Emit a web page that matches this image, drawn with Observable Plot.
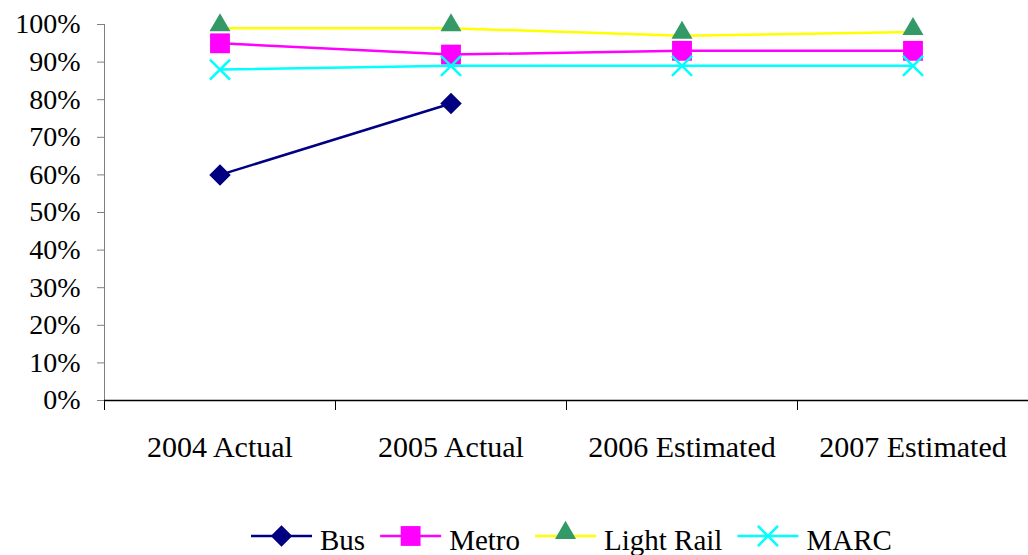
<!DOCTYPE html>
<html>
<head>
<meta charset="utf-8">
<script src="https://cdn.jsdelivr.net/npm/d3@7"></script>
<script src="https://cdn.jsdelivr.net/npm/@observablehq/plot@0.6"></script>
<style>
  html, body { margin: 0; padding: 0; background: #fff; }
  body { width: 1028px; height: 555px; overflow: hidden; font-family: "Liberation Serif", "Times New Roman", serif; }
  #chart svg, #legend svg { display: block; }
</style>
</head>
<body>
<div id="chart"></div>
<div id="legend"></div>
<script>
// Categories (fiscal years) and on-time performance per mode, in percent
const years = ["2004 Actual", "2005 Actual", "2006 Estimated", "2007 Estimated"];
const seriesNames = ["Bus", "Metro", "Light Rail", "MARC"];
const bus = [60, 79, null, null];
const metro = [95, 92, 93, 93];
const lightRail = [99, 99, 97, 98];
const marc = [88, 89, 89, 89];
const yTicks = [0, 10, 20, 30, 40, 50, 60, 70, 80, 90, 100];

// Per-series drawing style
const styles = {
  "Bus":        {line: "#000080", fill: "#000080", stroke: "none",    symbol: "diamond2", d3symbol: d3.symbolDiamond2, r: 9.7, dy: 0},
  "Metro":      {line: "#FF00FF", fill: "#FF00FF", stroke: "none",    symbol: "square",   d3symbol: d3.symbolSquare,   r: 11.2, dy: 0},
  "Light Rail": {line: "#FFFF00", fill: "#339966", stroke: "none",    symbol: "triangle", d3symbol: d3.symbolTriangle, r: 7.8, dy: -3},
  "MARC":       {line: "#00FFFF", fill: "none",    stroke: "#00FFFF", symbol: "times",    d3symbol: d3.symbolTimes,    r: 9.2, dy: 0}
};
const valuesBySeries = {"Bus": bus, "Metro": metro, "Light Rail": lightRail, "MARC": marc};

const rows = seriesNames.flatMap(name =>
  years.map((year, i) => ({series: name, year, value: valuesBySeries[name][i]}))
       .filter(d => d.value != null)
);

const W = 1028, H = 505, ML = 104, MR = 0, MT = 24, MB = 105;
const step = (W - ML - MR) / years.length;

const seriesMarks = seriesNames.flatMap(name => {
  const s = styles[name];
  const data = rows.filter(d => d.series === name);
  return [
    Plot.line(data, {x: "year", y: "value", stroke: s.line, strokeWidth: 2.5}),
    Plot.dot(data, {x: "year", y: "value", symbol: s.symbol, r: s.r, fill: s.fill,
                    stroke: s.stroke, strokeWidth: 2.5, dy: s.dy})
  ];
});

const chart = Plot.plot({
  width: W,
  height: H,
  marginLeft: ML,
  marginRight: MR,
  marginTop: MT,
  marginBottom: MB,
  style: {fontFamily: "'Liberation Serif', 'Times New Roman', serif", background: "#fff", color: "#000"},
  x: {type: "band", domain: years, padding: 0},
  y: {domain: [0, 100]},
  marks: [
    Plot.frame({anchor: "left", stroke: "#808080"}),
    Plot.ruleY([0], {stroke: "#000", strokeWidth: 1.5}),
    Plot.axisY({ticks: yTicks, tickSize: 7, tickPadding: 17, tickFormat: d => d + "%",
                fontSize: 28, stroke: "#808080", fill: "#000", label: null}),
    // tick marks at category boundaries
    Plot.axisX({tickSize: 10, dx: -step / 2, tickFormat: () => "", stroke: "#000", label: null}),
    // category labels centred under each band
    Plot.axisX({tickSize: 0, tickPadding: 35, fontSize: 30, fill: "#000", label: null}),
    ...seriesMarks
  ]
});
document.getElementById("chart").append(chart);

// Legend row under the chart
const legend = d3.select("#legend").append("svg")
  .attr("width", W).attr("height", 555 - H)
  .style("font-family", "'Liberation Serif', 'Times New Roman', serif");
let x = 251;
const lineY = 31, textY = 45, lineLen = 61;
seriesNames.forEach(name => {
  const s = styles[name];
  const g = legend.append("g");
  g.append("line").attr("x1", x).attr("x2", x + lineLen).attr("y1", lineY).attr("y2", lineY)
    .attr("stroke", s.line).attr("stroke-width", 2.5);
  g.append("path")
    .attr("d", d3.symbol(s.d3symbol, Math.PI * s.r * s.r)())
    .attr("transform", `translate(${x + lineLen / 2},${lineY + s.dy})`)
    .attr("fill", s.fill).attr("stroke", s.stroke).attr("stroke-width", 2.5);
  const t = g.append("text").attr("x", x + lineLen + 8).attr("y", textY)
    .attr("font-size", 29).attr("fill", "#000").text(name);
  x += lineLen + 8 + t.node().getComputedTextLength() + 15;
});
</script>
</body>
</html>
